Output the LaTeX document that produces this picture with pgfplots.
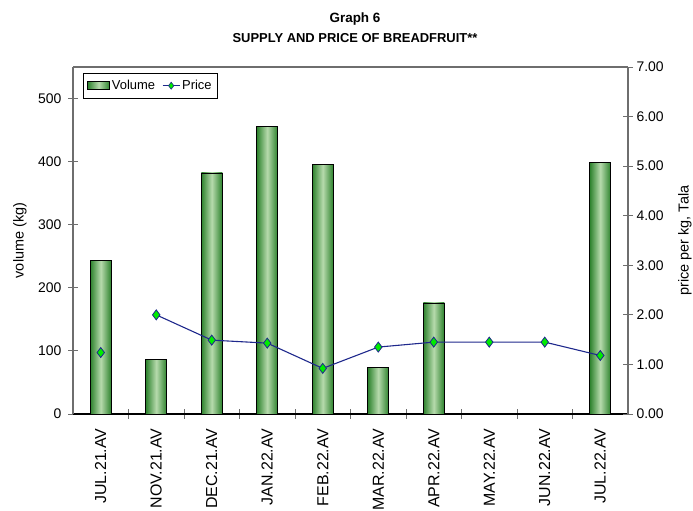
\documentclass[border=0pt]{standalone}
\usepackage{pgfplots}
\pgfplotsset{compat=1.18}
\usepackage{fontspec}
\setmainfont{Liberation Sans}
\definecolor{bardark}{RGB}{45,130,45}
\definecolor{barlight}{RGB}{182,218,172}
\definecolor{pricenavy}{RGB}{30,40,140}
\definecolor{pricegreen}{RGB}{0,235,0}
\definecolor{axgray}{RGB}{110,110,110}
\pgfplotsset{volbar/.style={ybar, bar width=21bp, bar shift=0pt, draw=black, line width=0.8pt,
  left color=bardark, right color=bardark, middle color=barlight}}
\begin{document}
\begin{tikzpicture}
\path[use as bounding box] (0bp,0bp) rectangle (693bp,511bp);
\node[font=\fontsize{13.5}{15}\selectfont\bfseries] at (355bp,492bp) {Graph 6};
\node[font=\fontsize{13}{15}\selectfont\bfseries] at (355bp,473bp) {SUPPLY AND PRICE OF BREADFRUIT**};
\begin{axis}[
  scale only axis, width=555bp, height=347bp,
  at={(73bp,97bp)}, anchor=south west,
  xmin=-0.5, xmax=9.5, ymin=0, ymax=550,
  axis x line*=bottom, axis y line*=left,
  x axis line style={black, line width=1.1pt, -},
  y axis line style={axgray, line width=1.1pt, -},
  tick align=center,
  xtick={0,...,9},
  xticklabels={JUL.21.AV,NOV.21.AV,DEC.21.AV,JAN.22.AV,FEB.22.AV,MAR.22.AV,APR.22.AV,MAY.22.AV,JUN.22.AV,JUL.22.AV},
  major x tick style={draw=none},
  minor xtick={0.5,1.5,...,8.5},
  minor x tick style={axgray, line width=0.9pt},
  minor tick length=9bp,
  major tick length=10bp,
  ytick={0,100,...,500},
  y tick style={axgray, line width=0.9pt},
  xticklabel style={rotate=90, anchor=east, font=\fontsize{16}{18}\selectfont, xshift=-6bp},
  yticklabel style={font=\fontsize{14}{16}\selectfont, xshift=-3bp},
  /pgf/number format/assume math mode=true,
  ylabel={volume (kg)},
  ylabel style={at={(axis description cs:-0.0955,0.5)}, anchor=center, font=\fontsize{14.5}{16}\selectfont},
  legend style={at={(axis description cs:0.018,0.983)}, anchor=north west, draw=black, line width=0.8pt,
    font=\fontsize{13}{15}\selectfont, inner xsep=4bp, inner ysep=5bp,
    /tikz/every even column/.append style={column sep=5bp}},
  legend columns=2,
  clip=false,
]
\addplot[volbar,
  legend image code/.code={\draw[draw=black, line width=0.6pt, left color=bardark, right color=bardark, middle color=barlight] (0bp,-4bp) rectangle (22bp,4bp);}]
  coordinates {(0,244)};
\addlegendentry{Volume}
\addlegendimage{pricenavy, line width=1pt, mark=diamond*, mark size=3.5bp, mark options={fill=pricegreen, draw=pricenavy, line width=0.6pt}}
\addlegendentry{Price}
\addplot[volbar, forget plot] coordinates {(1,86)};
\addplot[volbar, forget plot] coordinates {(2,382)};
\addplot[volbar, forget plot] coordinates {(3,456)};
\addplot[volbar, forget plot] coordinates {(4,396)};
\addplot[volbar, forget plot] coordinates {(5,74)};
\addplot[volbar, forget plot] coordinates {(6,176)};
\addplot[volbar, forget plot] coordinates {(9,398)};
\end{axis}
\begin{axis}[
  scale only axis, width=555bp, height=347bp,
  at={(73bp,97bp)}, anchor=south west,
  xmin=-0.5, xmax=9.5, ymin=0, ymax=7,
  axis x line=none, axis y line*=right,
  y axis line style={axgray, line width=1.1pt, -},
  tick align=center,
  major tick length=10bp,
  ytick={0,1,...,7},
  y tick style={axgray, line width=0.9pt},
  yticklabel style={font=\fontsize{14}{16}\selectfont, /pgf/number format/.cd, fixed, fixed zerofill, precision=2},
  /pgf/number format/assume math mode=true,
  ylabel={price per kg, Tala},
  ylabel style={at={(axis description cs:1.1027,0.5)}, anchor=center, rotate=0, font=\fontsize{14.5}{16}\selectfont},
  clip=false,
]
\draw[axgray, line width=1.1pt] (rel axis cs:0,1) -- (rel axis cs:1,1);
\addplot[only marks, mark=diamond*, mark size=5bp, mark options={fill=pricegreen, draw=pricenavy, line width=0.8pt}]
  coordinates {(0,1.24)};
\addplot[pricenavy, line width=1.1pt, mark=diamond*, mark size=5bp, mark options={fill=pricegreen, draw=pricenavy, line width=0.8pt}]
  coordinates {(1,2.00) (2,1.49) (3,1.43) (4,0.92) (5,1.35) (6,1.45) (7,1.45) (8,1.45) (9,1.18)};
\end{axis}
\end{tikzpicture}
\end{document}
